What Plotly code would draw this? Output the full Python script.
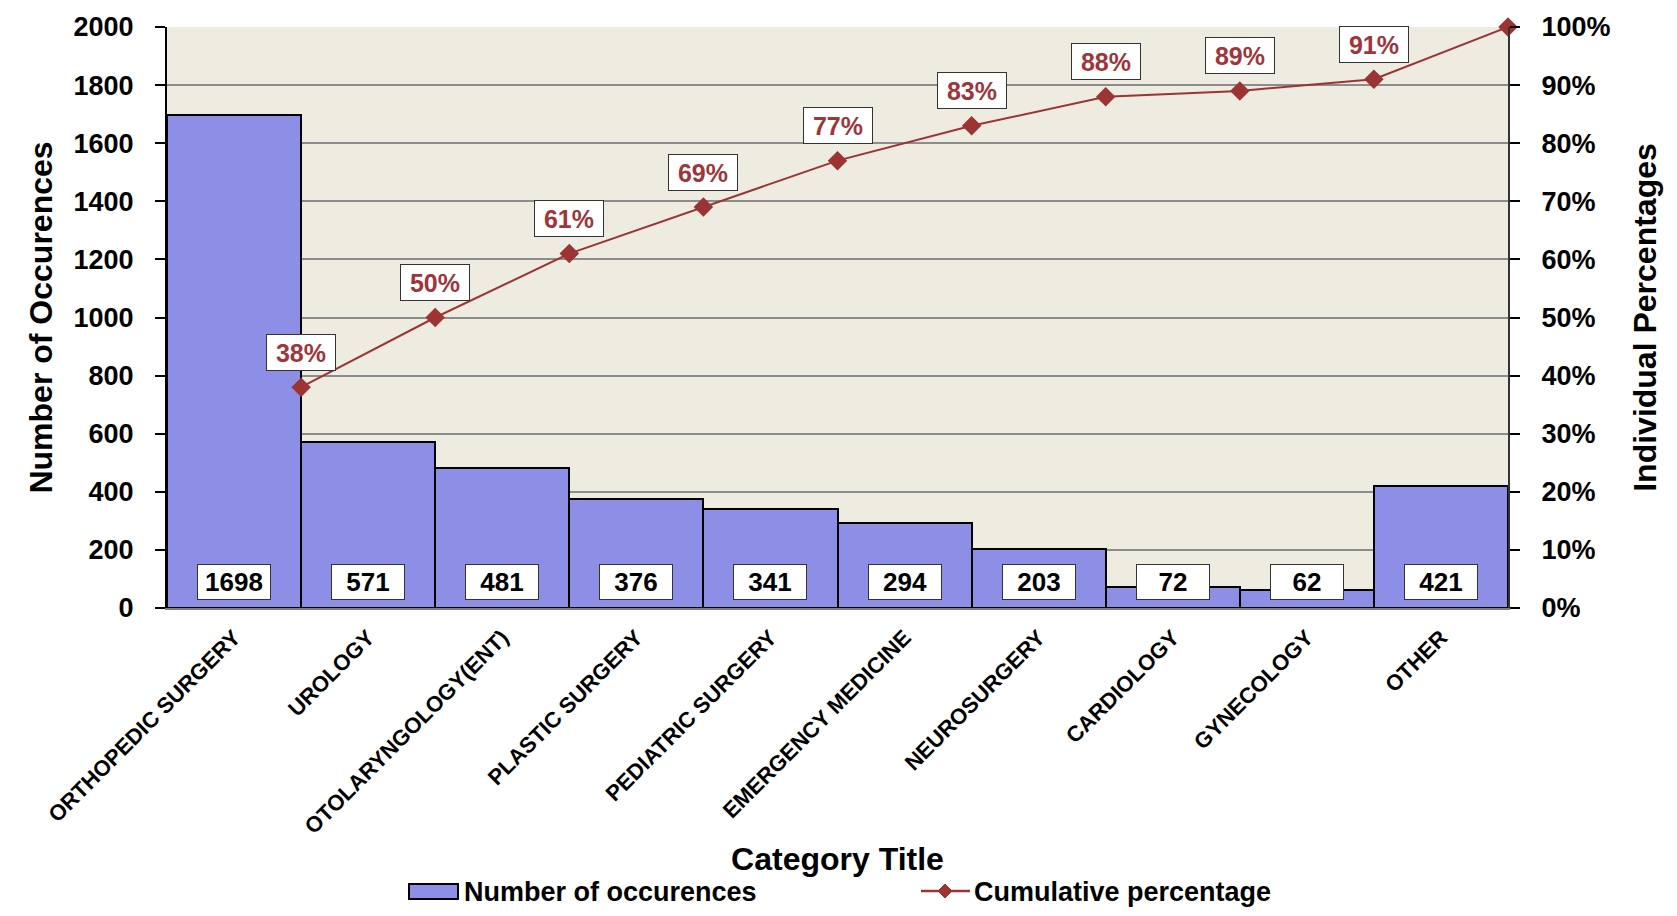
import plotly.graph_objects as go

# Pareto data: occurrences per specialty and the running cumulative share
categories = [
    "ORTHOPEDIC SURGERY", "UROLOGY", "OTOLARYNGOLOGY(ENT)", "PLASTIC SURGERY",
    "PEDIATRIC SURGERY", "EMERGENCY MEDICINE", "NEUROSURGERY", "CARDIOLOGY",
    "GYNECOLOGY", "OTHER",
]
occurrences = [1698, 571, 481, 376, 341, 294, 203, 72, 62, 421]
cumulative_pct = [38, 50, 61, 69, 77, 83, 88, 89, 91, 100]
count_ticks = list(range(0, 2001, 200))
pct_ticks = list(range(0, 101, 10))
pct_tick_labels = [f"{p}%" for p in pct_ticks]

W, H = 1677, 916
ML, MR, MT, MB = 167, 169, 25, 308
FONT = "Arial, Liberation Sans, sans-serif"
BAR_COLOR = "#8C8FE5"
LINE_COLOR = "#9C3434"
LABEL_RED = "#A0353A"


def px_x(px):
    """Horizontal pixel position -> paper fraction of the plotting area."""
    return (px - ML) / (W - ML - MR)


def px_y(py):
    """Vertical pixel position (from top) -> paper fraction of the plotting area."""
    return (H - MB - py) / (H - MT - MB)


fig = go.Figure()

fig.add_trace(go.Bar(
    x=categories,
    y=occurrences,
    name="Number of occurences",
    marker=dict(color=BAR_COLOR, line=dict(color="black", width=2)),
    showlegend=False,
))

# Cumulative share is plotted at the right edge of each bar (1..N on a helper axis)
fig.add_trace(go.Scatter(
    x=list(range(1, len(categories) + 1)),
    y=cumulative_pct,
    xaxis="x2",
    yaxis="y2",
    mode="lines+markers",
    name="Cumulative percentage",
    line=dict(color=LINE_COLOR, width=2),
    marker=dict(symbol="diamond", size=15, color=LINE_COLOR),
    cliponaxis=False,
    showlegend=False,
))

annotations = []
# Boxed count labels near the base of each bar
for cat, val in zip(categories, occurrences):
    annotations.append(dict(
        x=cat, y=0, xref="x", yref="y", text=str(val), showarrow=False,
        yshift=26, width=70, height=32, borderpad=1,
        bgcolor="white", bordercolor="#333333", borderwidth=1,
        font=dict(family=FONT, size=26, color="black", weight="bold"),
    ))
# Boxed percentage labels above the cumulative markers (last point unlabeled)
for i, pct in enumerate(cumulative_pct[:-1]):
    annotations.append(dict(
        x=i + 1, y=pct, xref="x2", yref="y2", text=f"{pct}%", showarrow=False,
        yshift=35, width=66, height=33, borderpad=1,
        bgcolor="white", bordercolor="#333333", borderwidth=1,
        font=dict(family=FONT, size=25, color=LABEL_RED, weight="bold"),
    ))

# Legend drawn below the category title
shapes = [
    dict(type="rect", xref="paper", yref="paper",
         x0=px_x(409), x1=px_x(458), y0=px_y(900), y1=px_y(885),
         fillcolor=BAR_COLOR, line=dict(color="black", width=2)),
    dict(type="line", xref="paper", yref="paper",
         x0=px_x(921), x1=px_x(970), y0=px_y(892), y1=px_y(892),
         line=dict(color=LINE_COLOR, width=2.5)),
    dict(type="path", xref="paper", yref="paper",
         xsizemode="pixel", ysizemode="pixel",
         xanchor=px_x(945), yanchor=px_y(892),
         path="M -7 0 L 0 7 L 7 0 L 0 -7 Z",
         fillcolor=LINE_COLOR, line=dict(color=LINE_COLOR, width=1)),
]
annotations += [
    dict(xref="paper", yref="paper", x=px_x(462), y=px_y(893),
         xanchor="left", yanchor="middle", showarrow=False,
         text="Number of occurences",
         font=dict(family=FONT, size=27, color="black", weight="bold")),
    dict(xref="paper", yref="paper", x=px_x(972), y=px_y(893),
         xanchor="left", yanchor="middle", showarrow=False,
         text="Cumulative percentage",
         font=dict(family=FONT, size=27, color="black", weight="bold")),
]

fig.update_layout(
    width=W, height=H,
    margin=dict(l=ML, r=MR, t=MT, b=MB),
    paper_bgcolor="white",
    plot_bgcolor="#EEEBE0",
    bargap=0,
    font=dict(family=FONT, color="black"),
    showlegend=False,
    xaxis=dict(
        type="category",
        tickangle=-45,
        tickfont=dict(family=FONT, size=22, weight="bold"),
        ticks="",
        ticklabelstandoff=6,
        showline=True, linecolor="#7F7F7F", linewidth=2,
        showgrid=False,
        title=dict(text="Category Title",
                   font=dict(family=FONT, size=32, weight="bold"),
                   standoff=10),
    ),
    xaxis2=dict(overlaying="x", range=[0, len(categories)], visible=False),
    yaxis=dict(
        range=[0, 2000],
        tickvals=count_ticks,
        tickfont=dict(family=FONT, size=27, weight="bold"),
        ticks="outside", ticklen=10, tickcolor="black", tickwidth=1.5,
        ticklabelstandoff=16,
        showline=True, linecolor="black", linewidth=2,
        showgrid=True, gridcolor="#8C8C8C", gridwidth=1.5,
        zeroline=False,
        title=dict(text="Number of Occurences",
                   font=dict(family=FONT, size=32, weight="bold"),
                   standoff=11),
    ),
    yaxis2=dict(
        overlaying="y", side="right",
        range=[0, 100],
        tickvals=pct_ticks,
        ticktext=pct_tick_labels,
        tickfont=dict(family=FONT, size=27, weight="bold"),
        ticks="outside", ticklen=10, tickcolor="black", tickwidth=1.5,
        ticklabelstandoff=16,
        showline=True, linecolor="#333333", linewidth=2,
        showgrid=False, zeroline=False,
        title=dict(text="Individual Percentages",
                   font=dict(family=FONT, size=32, weight="bold"),
                   standoff=24),
    ),
    annotations=annotations,
    shapes=shapes,
)

fig.write_html("out.html")
